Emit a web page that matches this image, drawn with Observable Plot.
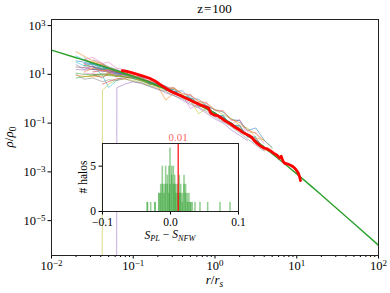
<!DOCTYPE html>
<html><head><meta charset="utf-8">
<script src="https://cdn.jsdelivr.net/npm/d3@7"></script>
<script src="https://cdn.jsdelivr.net/npm/@observablehq/plot@0.6"></script>
<style>
body{margin:0;background:#fff;}
#wrap{position:relative;width:390px;height:293px;font-family:"Liberation Serif",serif;}
#wrap svg{position:absolute;overflow:visible;font-family:"Liberation Serif",serif !important;}
#wrap svg text{font-family:"Liberation Serif",serif !important;}
</style></head><body><div id="wrap"></div>
<script>
// ---------- data ----------
const titleText = "z=100";
// radial grid of halo profiles (r / r_s)
const rGrid = [0.02,0.025,0.032,0.042,0.05,0.063,0.079,0.1,0.126,0.158,0.2,0.25,0.316,0.4,0.5,0.63,0.79,1.0,1.26,1.58,2.0,2.5,3.16,4.0,5.0];
// first grid index of each halo profile
const haloStart = [1,0,0,2,4,0,1,2,2,1,0,0,1,3,0,2,1,3,1,0,2,1,0,1, 0,2,1,0,3,0,2,1];
// log10(rho/rho0) of each halo profile along rGrid (-Infinity = empty bin)
const haloLogRho = [
 [1.45,1.40,1.30,1.22,1.10,1.00,0.90,0.78,0.66,0.55,0.40,0.27,0.10,-0.04,-0.25,-0.38,-0.62,-0.80,-1.05,-1.22,-1.52,-1.70,-2.05],
 [1.93,1.75,1.55,1.42,1.25,1.12,1.05,0.90,0.82,0.65,0.55,0.38,0.28,0.08,-0.02,-0.25,-0.35,-0.65,-0.78,-1.08,-1.20,-1.55,-1.68,-2.10,-2.20],
 [0.85,0.90,0.95,0.98,0.95,0.92,0.90,0.85,0.75,0.62,0.52,0.42,0.24,0.12,-0.08,-0.20,-0.43,-0.58,-0.84,-1.00,-1.30,-1.45,-1.80,-1.95],
 [1.10,1.15,1.08,1.02,0.98,0.88,0.78,0.70,0.52,0.44,0.25,0.13,-0.07,-0.20,-0.42,-0.63,-0.78,-1.05,-1.28,-1.45,-1.78],
 [-Infinity,0.45,0.60,0.70,0.62,0.52,0.40,0.24,0.13,-0.06,-0.24,-0.38,-0.60,-0.83,-1.00,-1.28,-1.50,-1.72],
 [1.30,1.28,1.20,1.18,1.10,1.02,0.96,0.85,0.78,0.66,0.50,0.40,0.22,0.10,-0.10,-0.20,-0.45,-0.62,-0.86,-1.04,-1.30,-1.52,-1.75],
 [1.05,1.02,1.00,1.05,1.02,0.96,0.90,0.82,0.70,0.58,0.43,0.28,0.14,-0.40,-0.24,-0.40,-0.65,-0.78,-1.10,-1.25,-1.50,-1.80,-1.98],
 [1.60,1.45,1.30,1.20,1.05,0.95,0.80,0.70,0.52,0.42,0.25,0.12,-0.04,-0.24,-0.40,-0.60,-0.82,-0.98,-1.28,-1.48,-1.72],
 [-Infinity,0.34,0.60,0.78,0.80,0.75,0.66,0.55,0.45,0.34,0.20,0.05,-0.10,-0.26,-0.45,-0.62,-0.80,-1.05,-1.22,-1.46,-1.78],
 [1.70,1.36,0.95,0.46,0.75,0.95,0.92,0.80,0.70,0.55,0.40,0.25,0.12,-0.05,-0.22,-0.42,-0.58,-0.80,-1.02,-1.25,-1.50,-1.72,-2.02,-2.20],
 [1.55,1.50,1.42,1.30,1.20,1.10,1.00,0.90,0.80,0.68,0.52,0.43,0.24,0.12,-0.05,-0.25,-0.40,-0.62,-0.78,-1.04,-1.24,-1.48,-1.76,-1.98],
 [0.95,0.92,0.90,0.92,0.98,0.95,0.88,0.83,0.74,0.64,0.50,-0.05,0.25,0.08,-0.06,-0.28,-0.42,-0.58,-0.85,-1.06,-1.22,-1.50,-1.70,-2.05],
 [1.35,1.32,1.25,1.20,1.12,1.02,0.92,0.82,0.70,0.56,0.45,0.27,0.14,-0.02,-0.22,-0.38,-0.58,-0.80,-1.00,-1.22,-1.48,-1.70,-1.95],
 [0.60,0.70,0.82,0.85,0.88,0.80,0.72,0.55,0.38,0.27,0.10,-0.06,-0.22,-0.40,-0.64,-0.80,-1.00,-1.26,-1.52,-1.72],
 [1.20,1.18,1.20,1.15,1.10,1.05,0.98,0.88,0.78,0.64,0.54,0.38,0.28,0.08,-0.02,-0.24,-0.40,-0.62,-0.82,-1.00,-1.28,-1.46,-1.78],
 [1.45,1.38,1.25,1.15,1.05,0.94,0.80,0.68,0.55,0.40,0.28,0.10,-0.08,-0.20,-0.42,-0.60,-0.83,-1.02,-1.24,-1.52,-1.76,-2.00],
 [1.30,1.25,1.15,1.12,1.08,1.00,0.92,0.80,0.68,0.52,0.42,0.24,0.12,-0.08,-0.22,-0.42,-0.60,-0.80,-1.05,-0.85,-1.52,-1.72,-2.08],
 [1.40,1.30,1.18,1.06,0.92,0.82,0.66,0.55,0.40,0.24,0.13,-0.06,-0.20,-0.40,-0.62,-0.82,-1.00,-1.26,-1.50,-1.74],
 [0.90,0.95,1.00,1.00,0.98,0.92,0.86,0.78,0.68,0.56,0.40,0.26,0.10,-0.06,-0.62,-0.38,-0.62,-0.80,-1.02,-1.28,-1.46,-1.78],
 [1.75,1.60,1.48,1.35,1.22,1.12,1.02,0.90,0.78,0.66,0.56,0.40,0.26,0.10,-0.04,-0.22,-0.42,-0.58,-0.82,-1.00,-1.26,-1.50,-1.72],
 [1.20,1.22,1.15,1.08,1.00,0.92,0.82,0.70,0.56,0.42,0.28,0.12,-0.04,-0.22,-0.42,-0.60,-0.80,-1.04,-1.26,-1.50,-1.74,-2.02],
 [1.62,1.50,1.38,1.25,1.15,1.05,0.94,0.80,0.66,0.52,0.44,0.26,0.08,-0.06,-0.22,-0.40,-0.62,-0.82,-1.02,-1.24,-1.50,-1.78],
 [1.05,1.00,0.98,1.02,1.00,0.95,0.90,0.82,0.72,0.60,0.50,0.38,0.25,0.10,-0.06,-0.22,-0.40,-0.62,-0.80,-1.00,-1.25,-1.52,-1.76,-2.00],
 [1.42,1.30,1.22,1.15,1.08,1.00,0.90,0.80,0.68,0.55,0.41,0.25,0.10,-0.05,-0.22,-0.40,-0.58,-0.80,-1.00,-1.25,-1.50,-1.72,-2.05],
 [1.40,1.20,1.35,1.10,1.18,0.95,1.05,0.85,0.90,0.62,0.70,0.35,0.45,0.05,0.15,-0.30,-0.20,-0.68,-0.70,-1.10,-1.08,-1.55,-1.60,-2.10],
 [1.00,0.85,1.05,0.90,1.02,0.85,0.80,0.60,0.62,0.35,0.38,0.05,0.02,-0.30,-0.32,-0.68,-0.72,-1.10,-1.12,-1.55,-1.62,-2.05],
 [1.60,1.70,1.45,1.50,1.25,1.20,1.00,0.98,0.75,0.72,0.48,0.45,0.20,0.18,-0.12,-0.15,-0.50,-0.48,-0.90,-0.88,-1.35,-1.40,-1.85],
 [1.00,0.80,0.85,0.70,0.78,0.75,0.82,0.70,0.65,0.50,0.38,0.30,0.12,0.00,-0.18,-0.35,-0.52,-0.75,-0.95,-1.15,-1.40,-1.65,-1.90,-2.15],
 [1.20,1.05,0.90,1.00,0.85,0.80,0.58,0.62,0.40,0.45,0.15,0.02,-0.15,-0.28,-0.45,-0.66,-0.80,-1.10,-1.20,-1.60,-1.70,-2.05],
 [1.50,1.35,1.45,1.20,1.28,1.00,1.08,0.82,0.88,0.60,0.62,0.35,0.38,0.05,0.08,-0.30,-0.28,-0.70,-0.68,-1.12,-1.10,-1.58,-1.55],
 [1.30,1.20,1.25,1.05,1.00,0.92,0.90,0.70,0.55,0.52,0.30,0.32,0.00,-0.02,-0.30,-0.45,-0.55,-0.85,-0.90,-1.30,-1.20,-1.70,-2.00],
 [1.10,1.25,1.15,1.20,1.10,1.05,0.95,0.85,0.72,0.66,0.45,0.42,0.20,0.15,-0.10,-0.18,-0.45,-0.52,-0.85,-0.98,-1.28,-1.42,-1.72]
];
// highlighted halo (red): log10 r and log10 rho
const redLogR = [-1.135,-1.08,-1.02,-0.95,-0.88,-0.80,-0.74,-0.68,-0.62,-0.56,-0.50,-0.44,-0.38,-0.30,-0.24,-0.18,-0.12,-0.08,-0.05,-0.01,0.03,0.07,0.11,0.15,0.20,0.25,0.29,0.33,0.37,0.41,0.45,0.48,0.52,0.56,0.60,0.64,0.68,0.72,0.76,0.79,0.81,0.83,0.85,0.89,0.93,0.96,0.99,1.02,1.035,1.046];
const redLogRho = [1.15,1.12,1.07,1.00,0.93,0.84,0.74,0.60,0.47,0.34,0.24,0.15,0.06,-0.06,-0.16,-0.25,-0.33,-0.38,-0.60,-0.67,-0.69,-0.78,-0.88,-0.96,-1.06,-1.18,-1.26,-1.36,-1.44,-1.50,-1.58,-1.72,-1.84,-1.95,-2.02,-2.06,-2.14,-2.24,-2.32,-2.44,-2.36,-2.55,-2.64,-2.68,-2.74,-2.80,-2.90,-3.06,-3.20,-3.36];
// NFW reference curve
const nfwR   = [0.01,0.02,0.03,0.05,0.07,0.1,0.2,0.3,0.5,0.7,1,1.4,2,3,5,10,20,50,100];
const nfwRho = [98,48,31.4,18.1,12.5,8.26,3.47,1.97,0.889,0.494,0.25,0.124,0.0556,0.0208,0.00556,0.000826,0.000113,7.69e-6,9.8e-7];
// axis ticks
const xMajor = [0.01,0.1,1,10,100];
const xMinor = [2,3,4,5,6,7,8,9].flatMap(m => [0.01,0.1,1,10].map(d => m*d));
const yMajor = [1e3,1e1,1e-1,1e-3,1e-5];
// inset histogram of S_PL - S_NFW
const binCenters = [-0.0333,-0.0284,-0.0221,-0.0162,-0.0137,-0.0113,-0.0088,-0.0064,-0.0039,-0.0015,0.0000,0.0025,0.0049,0.0069,0.0088,0.0113,0.0137,0.0157,0.0181,0.0206,0.0230,0.0255,0.0279,0.0304,0.0328,0.0368,0.0441,0.0554,0.0735,0.0882];
const countsA = [1,0,1,2,3,3,2,3,4,2,7,4,5,3,2,3,2,3,2,3,2,1,1,1,0,1,1,0,1,1];
const countsB = [1,1,1,2,2,5,3,5,3,5,3,5,3,4,3,2,4,2,1,4,3,2,2,1,1,0,0,1,0,0];
const binWidth = 0.0023;
const medianDiff = 0.0113;
const insetXTicks = [-0.1,0,0.1];
const insetYTicks = [0,5];

// ---------- build ----------
const tab10 = ["#1f77b4","#ff7f0e","#2ca02c","#d62728","#9467bd","#8c564b","#e377c2","#7f7f7f","#bcbd22","#17becf"];
const haloRows = [];
haloLogRho.forEach((arr,h) => arr.forEach((v,k) => haloRows.push({halo:h, color:tab10[h%10], r:rGrid[haloStart[h]+k], rho:Math.max(10**v, 1e-300)})));
const redRows = redLogR.map((lr,i) => ({r:10**lr, rho:10**redLogRho[i]}));
const nfwRows = nfwR.map((r,i) => ({r, rho:nfwRho[i]}));
const histA = binCenters.map((c,i) => ({x1:c-binWidth/2, x2:c+binWidth/2, n:countsA[i]})).filter(d=>d.n>0);
const histB = binCenters.map((c,i) => ({x1:c-binWidth/2, x2:c+binWidth/2, n:countsB[i]})).filter(d=>d.n>0);

const minus = s => String(s).replace("-", "\u2212");
const fmtPow = v => "10^" + minus(Math.round(Math.log10(v)));
const FONT = "Liberation Serif";

const main = Plot.plot({
  width:390, height:293,
  marginLeft:51, marginRight:12, marginTop:19, marginBottom:38,
  style:{fontFamily:FONT, fontSize:"12.5px", background:"transparent", color:"#000"},
  x:{type:"log", domain:[0.01,100]},
  y:{type:"log", domain:[10**-6.43, 10**3.25]},
  marks:[
    Plot.line(haloRows, {x:"r", y:"rho", z:"halo", stroke:"color", strokeOpacity:0.6, strokeWidth:0.9, clip:true}),
    Plot.line(nfwRows, {x:"r", y:"rho", stroke:"#2ca02c", strokeWidth:1.4, curve:"monotone-x", clip:true}),
    Plot.line(redRows, {x:"r", y:"rho", stroke:"#ff0000", strokeWidth:2.8, strokeLinejoin:"round", clip:true}),
    Plot.axisX(xMajor, {tickSize:3.5, tickPadding:2, tickFormat:fmtPow, label:null}),
    Plot.axisX(xMinor, {tickSize:2, fill:null, label:null}),
    Plot.axisY(yMajor, {tickSize:3.5, tickPadding:2.5, tickFormat:fmtPow, label:null}),
    Plot.frame({stroke:"#222", strokeWidth:1})
  ]
});
const wrap = document.getElementById("wrap");
main.style.left="0px"; main.style.top="0px";
wrap.appendChild(main);

// superscripts for 10^k tick labels
d3.select(main).selectAll("text").each(function(){
  const m = /^10\^(.+)$/.exec(this.textContent);
  if(!m) return;
  const s = d3.select(this); s.text(null);
  s.append("tspan").text("10");
  s.append("tspan").attr("dy","-0.45em").attr("font-size","0.72em").text(m[1]);
});

const sm = d3.select(main);
const title = sm.append("text").attr("x",214.5).attr("y",13).attr("text-anchor","middle")
  .style("font-family",FONT).style("font-size","13px").attr("fill","#000");
title.append("tspan").text(titleText.split("=")[0]);
title.append("tspan").attr("dx","1").text("=");
title.append("tspan").attr("dx","1").text(titleText.split("=")[1]);

const xl = sm.append("text").attr("x",214.5).attr("y",284).attr("text-anchor","middle")
  .style("font-family",FONT).style("font-size","13px").attr("fill","#000");
xl.append("tspan").attr("font-style","italic").text("r");
xl.append("tspan").text("/");
xl.append("tspan").attr("font-style","italic").text("r");
xl.append("tspan").attr("font-style","italic").attr("font-size","0.72em").attr("dy","0.3em").text("s");

const yl = sm.append("text").attr("transform","translate(13,137) rotate(-90)").attr("text-anchor","middle")
  .style("font-family",FONT).style("font-size","13px").attr("fill","#000");
yl.append("tspan").attr("font-style","italic").text("ρ");
yl.append("tspan").text("/");
yl.append("tspan").attr("font-style","italic").text("ρ");
yl.append("tspan").attr("font-size","0.72em").attr("dy","0.3em").text("0");

// ---------- inset ----------
const inset = Plot.plot({
  width:185, height:173,
  marginLeft:42, marginRight:7, marginTop:23, marginBottom:82,
  style:{fontFamily:FONT, fontSize:"11.5px", background:"transparent", color:"#000"},
  x:{domain:[-0.1,0.1]},
  y:{domain:[0,7.5]},
  marks:[
    Plot.frame({fill:"white", stroke:null}),
    Plot.rectY(histA, {x1:"x1", x2:"x2", y:"n", fill:"#2ca02c", fillOpacity:0.5}),
    Plot.rectY(histB, {x1:"x1", x2:"x2", y:"n", fill:"#2ca02c", fillOpacity:0.5}),
    Plot.ruleX([medianDiff], {stroke:"#ff0000", strokeWidth:1.2}),
    Plot.text([medianDiff], {x:d=>d, frameAnchor:"top", dy:-10, text:d=>d.toFixed(2), fill:"#ff0000", fillOpacity:0.65, fontSize:11}),
    Plot.axisX(insetXTicks, {tickSize:3.5, tickPadding:3, tickFormat:d=>minus(d.toFixed(1)), label:null}),
    Plot.axisY(insetYTicks, {tickSize:3.5, tickPadding:3, tickFormat:d=>String(d), label:null}),
    Plot.frame({stroke:"#222", strokeWidth:1})
  ]
});
inset.style.left="60px"; inset.style.top="120px";
wrap.appendChild(inset);
const si = d3.select(inset);
const ixl = si.append("text").attr("x",110).attr("y",118.5).attr("text-anchor","middle")
  .style("font-family",FONT).style("font-size","11.5px").attr("fill","#000");
ixl.append("tspan").attr("font-style","italic").text("S");
ixl.append("tspan").attr("font-style","italic").attr("font-size","0.72em").attr("dy","0.3em").text("PL");
ixl.append("tspan").attr("dy","-0.22em").text(" \u2212 ");
ixl.append("tspan").attr("font-style","italic").text("S");
ixl.append("tspan").attr("font-style","italic").attr("font-size","0.72em").attr("dy","0.3em").text("NFW");
si.append("text").attr("transform","translate(27,57) rotate(-90)").attr("text-anchor","middle")
  .style("font-family",FONT).style("font-size","11.5px").attr("fill","#000").text("# halos");
</script></body></html>
